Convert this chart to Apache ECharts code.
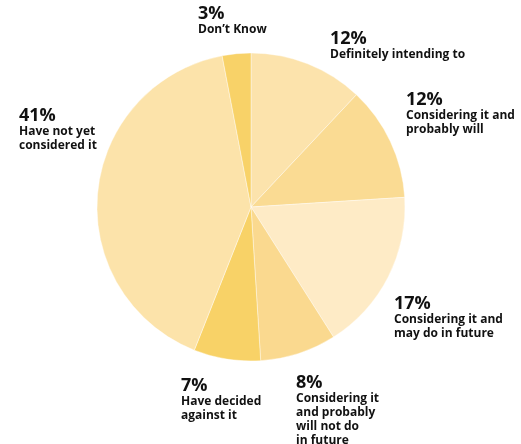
<!DOCTYPE html>
<html><head><meta charset="utf-8">
<script src="https://cdn.jsdelivr.net/npm/echarts@6/dist/echarts.min.js"></script>
<style>html,body{margin:0;padding:0;background:#fff}#c{width:521px;height:444px}</style>
</head><body><div id="c"></div>
<script>
var categories = ['Definitely intending to', 'Considering it and\nprobably will', 'Considering it and\nmay do in future', 'Considering it\nand probably\nwill not do\nin future', 'Have decided\nagainst it', 'Have not yet\nconsidered it', 'Don\u2019t Know'];
var values = [12, 12, 17, 8, 7, 41, 3];
var colors = ['#FCE3AC', '#FADB93', '#FEEBC6', '#FAD98F', '#F8D267', '#FCE3AA', '#F8D268'];
var labelPos = [[330, 29], [406, 90], [394, 294], [296, 373], [181, 376], [19, 106], [198, 4]];

var chart = echarts.init(document.getElementById('c'));
chart.setOption({
  animation: false,
  series: [{
    type: 'pie',
    center: [251, 207],
    radius: [0, 154],
    startAngle: 90,
    clockwise: true,
    data: categories.map(function (c, i) {
      return { name: c, value: values[i], itemStyle: { color: colors[i] } };
    }),
    itemStyle: { borderColor: '#fff', borderWidth: 0.4 },
    labelLine: { show: false },
    label: {
      show: true,
      overflow: 'none',
      formatter: function (p) { return '{p|' + p.value + '%}\n{t|' + p.name.split('\n').join('}\n{t|') + '}'; },
      rich: {
        p: { fontFamily: 'Open Sans', fontWeight: 'bold', fontSize: 18, color: '#111', lineHeight: 19 },
        t: { fontFamily: 'Open Sans', fontWeight: 'bold', fontSize: 12, color: '#111', lineHeight: 14 }
      }
    },
    labelLayout: function (params) {
      var pos = labelPos[params.dataIndex];
      return { x: pos[0], y: pos[1], align: 'left', verticalAlign: 'top' };
    }
  }]
});
</script></body></html>
